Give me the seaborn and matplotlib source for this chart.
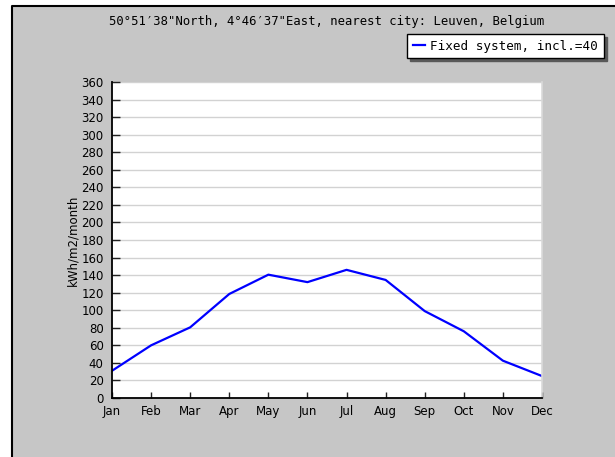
import pandas as pd
import matplotlib
matplotlib.use("Agg")
import matplotlib.pyplot as plt
from matplotlib.patches import Rectangle
from matplotlib.lines import Line2D
import seaborn as sns

# Monthly values
months = ["Jan", "Feb", "Mar", "Apr", "May", "Jun",
          "Jul", "Aug", "Sep", "Oct", "Nov", "Dec"]
irradiation = [31, 60, 80.5, 118.5, 140.5, 132, 146, 134.5, 99, 76, 42.5, 25]
y_ticks = list(range(0, 361, 20))

title = "50\u00b051\u203238\"North, 4\u00b046\u203237\"East, nearest city: Leuven, Belgium"
series_name = "Fixed system, incl.=40"

df = pd.DataFrame({"pos": range(len(months)), "value": irradiation})

bg = "#c6c6c6"
W, H = 615, 457

fig = plt.figure(figsize=(W / 100, H / 100), dpi=100)
fig.patch.set_facecolor(bg)
fig.patch.set_edgecolor(bg)
fig.patch.set_linewidth(0)

# white strip on the left/top, dark edge only on top and left of the grey panel
x0, y1 = 11.5 / W, 1 - 6 / H
fig.patches.append(Rectangle((0, 0), x0, 1, transform=fig.transFigure,
                             facecolor="white", edgecolor="none", zorder=-10))
fig.patches.append(Rectangle((0, y1), 1, 1 - y1, transform=fig.transFigure,
                             facecolor="white", edgecolor="none", zorder=-10))
fig.lines.append(Line2D([x0, x0, 1.05], [-0.05, y1, y1], transform=fig.transFigure,
                        color="black", linewidth=1.5, zorder=-9))

ax = fig.add_axes([112 / W, (H - 398) / H, 430 / W, 316 / H])
ax.set_facecolor("white")

sns.lineplot(data=df, x="pos", y="value", color="#0000ff", linewidth=1.6,
             ax=ax, label=series_name, legend=False)

ax.set_xlim(0, 11)
ax.set_ylim(0, 360)
ax.set_xticks(range(len(months)))
ax.set_xticklabels(months)
ax.set_yticks(y_ticks)
ax.grid(axis="y", color="#d2d2d2", linewidth=1.0)
ax.set_axisbelow(True)

for s in ["left", "bottom"]:
    ax.spines[s].set_color("black")
    ax.spines[s].set_linewidth(1.3)
ax.spines["top"].set_visible(False)
ax.spines["right"].set_color("#dadada")
ax.spines["right"].set_linewidth(1.2)

ax.tick_params(axis="y", direction="in", length=5.5, width=1, color="#222222",
               labelsize=8.5, pad=6)
ax.tick_params(axis="x", direction="in", length=4.5, width=1, color="#222222",
               labelsize=8.5, pad=5)

ax.set_xlabel("")
ax.set_ylabel("kWh/m2/month", fontsize=8.5)
ax.yaxis.set_label_coords(-0.076, 0.5)

fig.text(327 / W, 1 - 21 / H, title, ha="center", va="center",
         family="DejaVu Sans Mono", fontsize=8.8)

handles, labels = ax.get_legend_handles_labels()
fig.legend(handles, labels, loc="upper left",
           bbox_to_anchor=(407 / W, 1 - 34 / H), borderaxespad=0,
           prop={"family": "DejaVu Sans Mono", "size": 9.1},
           frameon=True, fancybox=False, edgecolor="black", framealpha=1,
           facecolor="white", handlelength=1.0, handletextpad=0.4,
           borderpad=0.45, shadow={"color": "0.35", "alpha": 1})

fig.savefig("out.png", dpi=100, facecolor=fig.get_facecolor())
